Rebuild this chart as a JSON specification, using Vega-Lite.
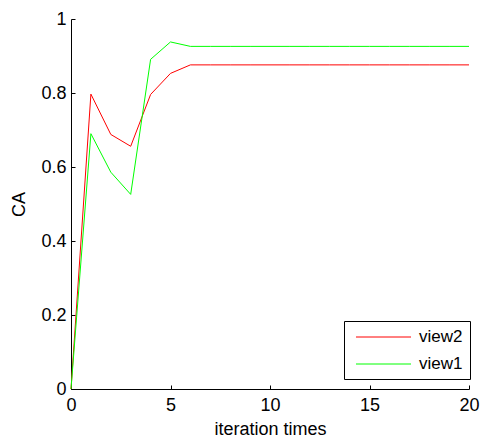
{
  "$schema": "https://vega.github.io/schema/vega-lite/v6.json",
  "width": 398,
  "height": 370,
  "autosize": {"type": "none"},
  "padding": {"left": 71, "top": 19, "right": 11, "bottom": 46},
  "background": "white",
  "config": {
    "view": {"stroke": null}
  },
  "data": {
    "values": [
      {"iter": 0, "CA": 0, "view": "view2"},
      {"iter": 1, "CA": 0.797, "view": "view2"},
      {"iter": 2, "CA": 0.688, "view": "view2"},
      {"iter": 3, "CA": 0.656, "view": "view2"},
      {"iter": 4, "CA": 0.796, "view": "view2"},
      {"iter": 5, "CA": 0.853, "view": "view2"},
      {"iter": 6, "CA": 0.876, "view": "view2"},
      {"iter": 7, "CA": 0.876, "view": "view2"},
      {"iter": 8, "CA": 0.876, "view": "view2"},
      {"iter": 9, "CA": 0.876, "view": "view2"},
      {"iter": 10, "CA": 0.876, "view": "view2"},
      {"iter": 11, "CA": 0.876, "view": "view2"},
      {"iter": 12, "CA": 0.876, "view": "view2"},
      {"iter": 13, "CA": 0.876, "view": "view2"},
      {"iter": 14, "CA": 0.876, "view": "view2"},
      {"iter": 15, "CA": 0.876, "view": "view2"},
      {"iter": 16, "CA": 0.876, "view": "view2"},
      {"iter": 17, "CA": 0.876, "view": "view2"},
      {"iter": 18, "CA": 0.876, "view": "view2"},
      {"iter": 19, "CA": 0.876, "view": "view2"},
      {"iter": 20, "CA": 0.876, "view": "view2"},
      {"iter": 0, "CA": 0, "view": "view1"},
      {"iter": 1, "CA": 0.69, "view": "view1"},
      {"iter": 2, "CA": 0.586, "view": "view1"},
      {"iter": 3, "CA": 0.526, "view": "view1"},
      {"iter": 4, "CA": 0.891, "view": "view1"},
      {"iter": 5, "CA": 0.938, "view": "view1"},
      {"iter": 6, "CA": 0.926, "view": "view1"},
      {"iter": 7, "CA": 0.926, "view": "view1"},
      {"iter": 8, "CA": 0.926, "view": "view1"},
      {"iter": 9, "CA": 0.926, "view": "view1"},
      {"iter": 10, "CA": 0.926, "view": "view1"},
      {"iter": 11, "CA": 0.926, "view": "view1"},
      {"iter": 12, "CA": 0.926, "view": "view1"},
      {"iter": 13, "CA": 0.926, "view": "view1"},
      {"iter": 14, "CA": 0.926, "view": "view1"},
      {"iter": 15, "CA": 0.926, "view": "view1"},
      {"iter": 16, "CA": 0.926, "view": "view1"},
      {"iter": 17, "CA": 0.926, "view": "view1"},
      {"iter": 18, "CA": 0.926, "view": "view1"},
      {"iter": 19, "CA": 0.926, "view": "view1"},
      {"iter": 20, "CA": 0.926, "view": "view1"}
    ]
  },
  "mark": {"type": "line", "strokeWidth": 1},
  "encoding": {
    "x": {
      "field": "iter",
      "type": "quantitative",
      "scale": {"domain": [0, 20], "nice": false, "zero": false},
      "axis": {
        "values": [0, 5, 10, 15, 20], "title": "iteration times", "format": "~g",
        "labelFont": "Liberation Sans", "titleFont": "Liberation Sans",
        "labelFontSize": 18, "titleFontSize": 18, "titleFontWeight": "normal",
        "labelColor": "black", "titleColor": "black", "domainColor": "black", "tickColor": "black",
        "grid": false, "tickSize": -4, "labelPadding": 11, "titlePadding": 6, "labelFlush": false
      }
    },
    "y": {
      "field": "CA",
      "type": "quantitative",
      "scale": {"domain": [0, 1], "nice": false},
      "axis": {
        "values": [0, 0.2, 0.4, 0.6, 0.8, 1], "title": "CA", "format": "~g",
        "labelFont": "Liberation Sans", "titleFont": "Liberation Sans",
        "labelFontSize": 18, "titleFontSize": 18, "titleFontWeight": "normal",
        "labelColor": "black", "titleColor": "black", "domainColor": "black", "tickColor": "black",
        "grid": false, "tickSize": -4, "labelPadding": 9, "titlePadding": 12, "labelFlush": false
      }
    },
    "color": {
      "field": "view",
      "type": "nominal",
      "sort": ["view2", "view1"],
      "scale": {"domain": ["view2", "view1"], "range": ["#ff0000", "#00ff00"]},
      "legend": {
        "title": null,
        "orient": "none",
        "legendX": 273,
        "legendY": 302,
        "symbolType": "M-0.471,0L6.0,0",
        "symbolSize": 289,
        "symbolStrokeWidth": 1,
        "labelFontSize": 17,
        "labelColor": "black",
        "labelFont": "Liberation Sans",
        "labelOffset": 50,
        "strokeColor": "black",
        "fillColor": "white",
        "padding": 7,
        "rowPadding": 10
      }
    }
  }
}
